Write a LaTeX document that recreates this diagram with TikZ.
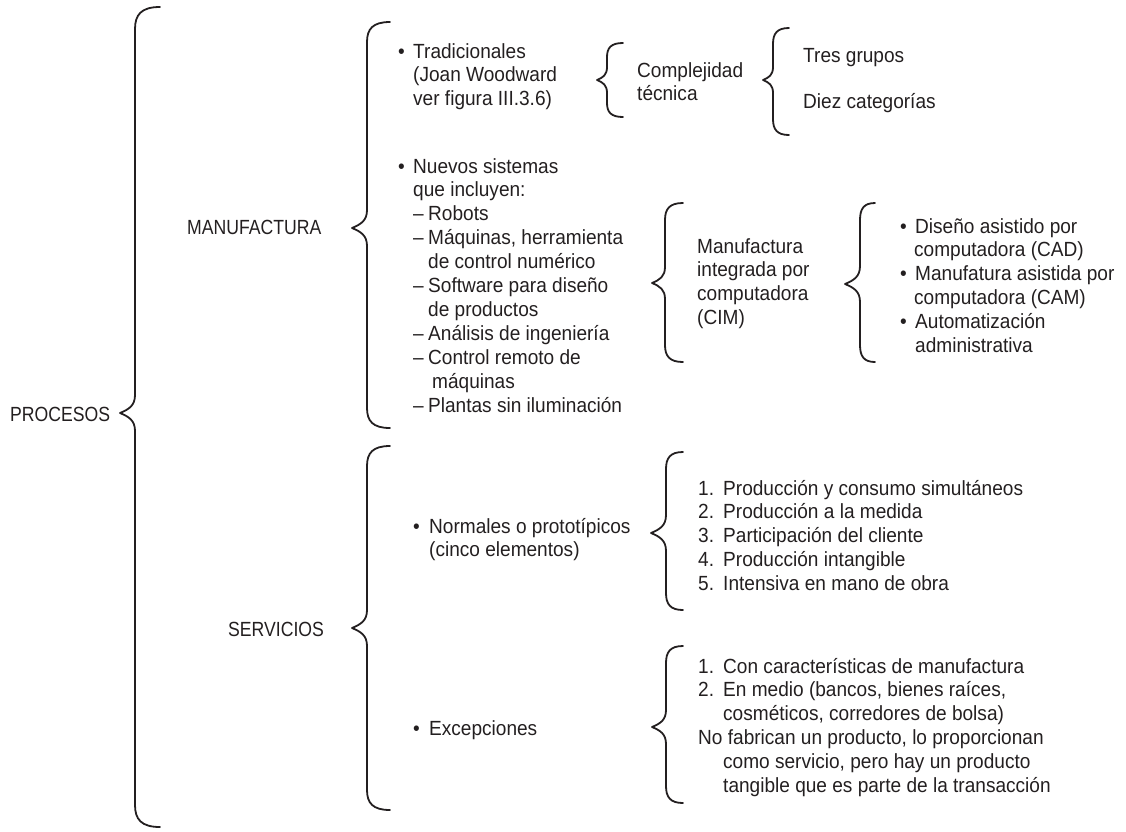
\documentclass[tikz,border=0pt]{standalone}
\usepackage{fontspec}
\setmainfont{Liberation Sans}[FakeStretch=0.93]
\newfontfamily\capsfont{Liberation Sans}[FakeStretch=0.86]
\definecolor{ink}{HTML}{231F20}
\newcommand\mybr[7]{% #1 line x, #2 top, #3 bottom, #4 tip y, #5 depth, #6 hook width, #7 curl
  \draw[brc] ({#1+#6},#2) .. controls ({#1+0.25*#6},#2) and (#1,{#2+0.35*#7}) .. (#1,{#2+#7})
    -- (#1,{#4-#5-3}) .. controls (#1,{#4-0.5*#5}) and ({#1-0.4*#5},{#4-0.25*#5}) .. ({#1-#5},#4)
    .. controls ({#1-0.4*#5},{#4+0.25*#5}) and (#1,{#4+0.5*#5}) .. (#1,{#4+#5+3})
    -- (#1,{#3-#7}) .. controls (#1,{#3-0.35*#7}) and ({#1+0.25*#6},#3) .. ({#1+#6},#3);}
\newcommand\bul[1]{\makebox[#1][l]{•}}
\newcommand\dsh{\makebox[15pt][l]{–}}
\newcommand\ind[1]{\hspace*{#1}}
\newcommand\lyn[1]{\hbox{#1}}
\begin{document}
\begin{tikzpicture}[x=1pt,y=-1pt,
  txt/.style={anchor=base west, inner sep=0pt, text=ink,
    font=\fontsize{20.5}{23.9}\selectfont},
  captxt/.style={txt, font=\capsfont\fontsize{20.5}{23.9}\selectfont},
  brc/.style={line width=1.8pt, draw=ink, line cap=round, line join=round}]
\useasboundingbox (0,0) rectangle (1126,831);

% text nodes
\node[captxt] (procesos) at (10,421) {PROCESOS};
\node[captxt] (manuf) at (187,234) {MANUFACTURA};
\node[captxt] (serv) at (228,636) {SERVICIOS};

\node[txt] (trad) at (398,58) {\vtop{\lyn{\bul{15pt}Tradicionales}\lyn{\ind{15pt}(Joan Woodward}\lyn{\ind{15pt}ver figura III.3.6)}}};
\node[txt] (compl) at (637,77) {\vtop{\lyn{Complejidad}\lyn{técnica}}};
\node[txt] (tres) at (803,62) {Tres grupos};
\node[txt] (diez) at (803,108) {Diez categorías};

\node[txt] (nuevos) at (398,173) {\vtop{\lyn{\bul{15pt}Nuevos sistemas}
\lyn{\ind{15pt}que incluyen:}
\lyn{\ind{15pt}\dsh Robots}
\lyn{\ind{15pt}\dsh Máquinas, herramienta}
\lyn{\ind{30pt}de control numérico}
\lyn{\ind{15pt}\dsh Software para diseño}
\lyn{\ind{30pt}de productos}
\lyn{\ind{15pt}\dsh Análisis de ingeniería}
\lyn{\ind{15pt}\dsh Control remoto de}
\lyn{\ind{34pt}máquinas}
\lyn{\ind{15pt}\dsh Plantas sin iluminación}}};

\node[txt] (cim) at (697,253) {\vtop{\lyn{Manufactura}\lyn{integrada por}\lyn{computadora}\lyn{(CIM)}}};
\node[txt] (cad) at (900,233) {\vtop{\lyn{\bul{15pt}Diseño asistido por}
\lyn{\ind{14pt}computadora (CAD)}
\lyn{\bul{15pt}Manufatura asistida por}
\lyn{\ind{14pt}computadora (CAM)}
\lyn{\bul{15pt}Automatización}
\lyn{\ind{15pt}administrativa}}};

\node[txt] (normales) at (413,533) {\vtop{\lyn{\bul{16pt}Normales o prototípicos}\lyn{\ind{16pt}(cinco elementos)}}};
\node[txt] (cinco) at (698,495) {\vtop{\lyn{\makebox[25pt][l]{1.}Producción y consumo simultáneos}
\lyn{\makebox[25pt][l]{2.}Producción a la medida}
\lyn{\makebox[25pt][l]{3.}Participación del cliente}
\lyn{\makebox[25pt][l]{4.}Producción intangible}
\lyn{\makebox[25pt][l]{5.}Intensiva en mano de obra}}};

\node[txt] (excep) at (413,735) {\bul{16pt}Excepciones};
\node[txt] (exlist) at (698,673) {\vtop{\lyn{\makebox[25pt][l]{1.}Con características de manufactura}
\lyn{\makebox[25pt][l]{2.}En medio (bancos, bienes raíces,}
\lyn{\ind{25pt}cosméticos, corredores de bolsa)}
\lyn{No fabrican un producto, lo proporcionan}
\lyn{\ind{25pt}como servicio, pero hay un producto}
\lyn{\ind{25pt}tangible que es parte de la transacción}}};

% braces
\mybr{135}{7}{827}{413}{15}{25}{22}
\mybr{367}{22}{428}{228}{15}{23}{20}
\mybr{367}{446}{810}{628}{15}{23}{20}
\mybr{607}{43}{117}{80}{10}{16}{14}
\mybr{773}{28}{135}{80}{10}{16}{16}
\mybr{665}{203}{362}{283}{13}{18}{17}
\mybr{860}{203}{362}{284}{15}{15}{17}
\mybr{666}{452}{610}{533}{15}{17}{17}
\mybr{666}{646}{803}{727}{14}{17}{17}
\end{tikzpicture}
\end{document}
